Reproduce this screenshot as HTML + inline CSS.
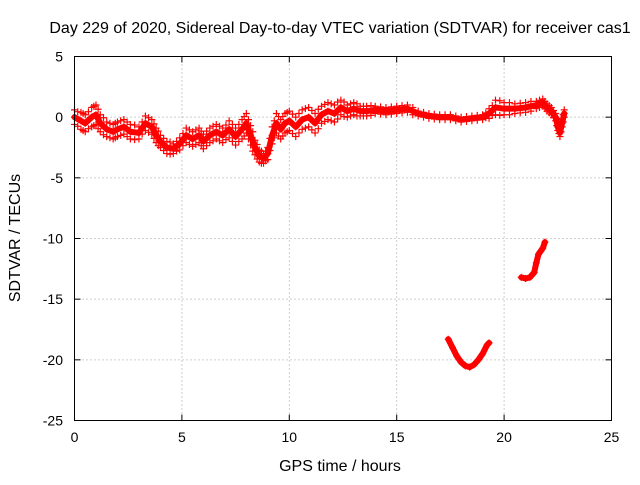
<!DOCTYPE html>
<html><head><meta charset="utf-8"><style>
body{margin:0;background:#fff;width:640px;height:480px;overflow:hidden}
svg text{font-family:"Liberation Sans",sans-serif;font-size:14px;fill:#000}
svg text.big{font-size:16px}
</style></head><body>
<svg id="chart" width="640" height="480" xmlns="http://www.w3.org/2000/svg">
<text class="big" x="340" y="33" text-anchor="middle">Day 229 of 2020, Sidereal Day-to-day VTEC variation (SDTVAR) for receiver cas1</text>
<text class="big" x="340" y="471" text-anchor="middle">GPS time / hours</text>
<text class="big" x="20" y="238" text-anchor="middle" transform="rotate(-90 20 238)">SDTVAR / TECUs</text>
<g id="grid"></g><g id="ticks"></g><g id="marks"></g>
<rect x="74.5" y="56.5" width="537" height="364" fill="none" stroke="#000" stroke-width="1"/>
</svg>
<script>
const xTicks=[0,5,10,15,20,25];
const yTicks=[5,0,-5,-10,-15,-20,-25];
const seg1X=[0,0.3,0.5,0.8,1.0,1.2,1.5,1.8,2.0,2.3,2.6,3.0,3.3,3.6,3.8,4.0,4.3,4.6,4.9,5.2,5.5,5.8,6.0,6.3,6.6,6.9,7.2,7.5,7.8,8.0,8.2,8.4,8.6,8.8,9.0,9.2,9.4,9.6,9.8,10,10.3,10.6,10.9,11.2,11.5,11.8,12.1,12.4,12.7,13,13.3,13.6,14,14.5,15,15.5,16,16.5,17,17.5,18,18.5,19,19.3,19.6,20,20.5,21,21.5,21.8,22,22.2,22.4,22.5,22.6,22.7,22.8];
const seg1Y=[0,-0.3,-0.5,0,0.2,-0.5,-1,-1.2,-1,-0.8,-1.2,-1.3,-0.5,-0.8,-1.5,-2.0,-2.5,-2.6,-2.2,-1.5,-1.8,-1.5,-2.0,-1.5,-1.2,-1.5,-1.0,-1.6,-1.0,-0.5,-1.5,-2.5,-3.2,-3.4,-3.0,-1.5,-0.5,-1.0,-0.5,-0.3,-0.8,-0.2,0,-0.5,0.2,0.5,0.3,0.8,0.5,0.7,0.5,0.5,0.6,0.5,0.6,0.7,0.3,0.1,0,0,-0.2,-0.1,0,0.3,0.8,0.7,0.7,0.8,1.0,1.2,0.8,0.5,0,-0.8,-1.3,-0.5,0.3];
const seg1Spread=[0.6,0.7,0.7,0.8,0.8,0.7,0.6,0.6,0.6,0.6,0.6,0.5,0.6,0.6,0.6,0.5,0.5,0.4,0.5,0.6,0.6,0.6,0.6,0.6,0.6,0.6,0.7,0.7,0.8,0.8,0.8,0.6,0.5,0.4,0.5,0.7,0.8,0.8,0.8,0.8,0.8,0.8,0.8,0.8,0.7,0.7,0.7,0.6,0.5,0.5,0.4,0.4,0.3,0.3,0.3,0.3,0.2,0.2,0.2,0.2,0.2,0.2,0.2,0.4,0.6,0.5,0.4,0.4,0.3,0.3,0.3,0.3,0.3,0.3,0.3,0.3,0.3];
const seg2X=[17.4,17.6,17.8,18.0,18.2,18.4,18.6,18.8,19.0,19.2,19.3];
const seg2Y=[-18.3,-19.0,-19.7,-20.2,-20.5,-20.6,-20.4,-20.0,-19.5,-18.8,-18.6];
const seg3X=[20.8,21.0,21.2,21.4,21.5,21.6,21.8,21.9];
const seg3Y=[-13.2,-13.3,-13.2,-12.8,-12.0,-11.3,-10.8,-10.3];
const NS='http://www.w3.org/2000/svg';
const sx=v=>74.5+v*537/25, sy=v=>56.5+(5-v)*364/30;
const grid=document.getElementById('grid'),ticks=document.getElementById('ticks'),marks=document.getElementById('marks');
function mk(t,a,p){const e=document.createElementNS(NS,t);for(const k in a)e.setAttribute(k,a[k]);p.appendChild(e);return e;}
xTicks.forEach(v=>{const x=sx(v);
 if(v>0&&v<25){const g=mk('line',{x1:x,x2:x,y1:56.5,y2:420.5,stroke:'#a0a0a0','stroke-dasharray':'1,3'},grid);
 
 }
 const t=mk('text',{x:x,y:442,'text-anchor':'middle'},ticks);t.textContent=v;
 
 
 mk('line',{x1:x,x2:x,y1:420.5,y2:414.5,stroke:'#000'},ticks);mk('line',{x1:x,x2:x,y1:56.5,y2:62.5,stroke:'#000'},ticks);});
yTicks.forEach(v=>{const y=sy(v);
 if(v<5&&v>-25){const g=mk('line',{x1:74.5,x2:611.5,y1:y,y2:y,stroke:'#a0a0a0','stroke-dasharray':'1,3'},grid);
 
 }
 const t=mk('text',{x:63,y:y+5,'text-anchor':'end'},ticks);t.textContent=v;
 
 
 mk('line',{x1:74.5,x2:80.5,y1:y,y2:y,stroke:'#000'},ticks);mk('line',{x1:611.5,x2:605.5,y1:y,y2:y,stroke:'#000'},ticks);});
function plus(x,y){const p=mk('path',{d:`M${x-3.5},${y}h7M${x},${y-3.5}v7`,stroke:'#f00','stroke-width':1.2,fill:'none'},marks);
 
 }
function seg(X,Y,S,name){
 const pts=X.map((x,i)=>sx(x)+','+sy(Y[i])).join(' ');
 const l=mk('polyline',{points:pts,fill:'none',stroke:'#f00','stroke-width':6,'stroke-linejoin':'round','stroke-linecap':'round'},marks);
 
 
 X.forEach((x,i)=>{plus(sx(x),sy(Y[i]));if(S){plus(sx(x),sy(Y[i]+S[i]));plus(sx(x),sy(Y[i]-S[i]));
  if(i+1<X.length){const mx=(X[i]+X[i+1])/2,my=(Y[i]+Y[i+1])/2;plus(sx(mx),sy(my+S[i]));plus(sx(mx),sy(my-S[i]));}}});
}
seg(seg1X,seg1Y,seg1Spread,'series-main');
seg(seg2X,seg2Y,null,'series-dip');
seg(seg3X,seg3Y,null,'series-rise');
</script>
</body></html>
